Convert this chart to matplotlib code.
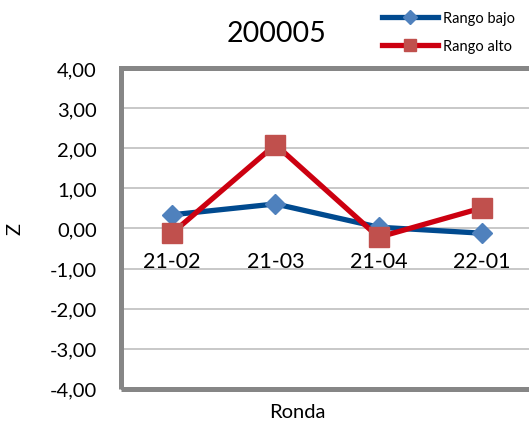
import matplotlib
matplotlib.use("Agg")
import matplotlib.pyplot as plt
from matplotlib.lines import Line2D
from matplotlib.patches import Rectangle

plt.rcParams["font.family"] = ["Lato", "DejaVu Sans"]

# data
rondas = ["21-02", "21-03", "21-04", "22-01"]
rango_bajo = [0.34, 0.61, 0.03, -0.12]
rango_alto = [-0.12, 2.09, -0.22, 0.51]
yticks = [-4, -3, -2, -1, 0, 1, 2, 3, 4]

BLUE_LINE = "#004A8F"; BLUE_MK = "#4F81BD"
RED_LINE = "#CC0010"; RED_MK = "#C0504D"
GRID = "#BFBFBF"; FRAME = "#868686"

W, H = 529, 427
fig = plt.figure(figsize=(W / 100, H / 100), dpi=100)
ax = fig.add_axes([120.5 / W, 1 - 389.8 / H, 413 / W, 320.8 / H])

# category labels sit on the zero line, like Excel (set before tick styling,
# set_position resets the ticks)
for side in ("top", "right", "left"):
    ax.spines[side].set_visible(False)
ax.spines["bottom"].set_position(("data", 0))
ax.spines["bottom"].set_visible(False)

x = range(len(rondas))
ax.plot(x, rango_bajo, color=BLUE_LINE, lw=3.8, marker="D", ms=10.5,
        mfc=BLUE_MK, mec=BLUE_MK, zorder=3)
ax.plot(x, rango_alto, color=RED_LINE, lw=3.8, marker="s", ms=14,
        mfc=RED_MK, mec=RED_MK, zorder=4)

ax.set_xlim(-0.5, len(rondas) - 0.5)
ax.set_ylim(-4, 4)
ax.set_yticks(yticks)
ax.set_yticklabels([f"{v:.2f}".replace(".", ",") for v in yticks])
ax.set_xticks(list(x))
ax.set_xticklabels(rondas)
ax.tick_params(axis="both", length=0)
ax.tick_params(axis="y", pad=17, labelsize=14.5)
ax.tick_params(axis="x", pad=16, labelsize=15.5)
ax.grid(axis="y", color=GRID, lw=1.2)
ax.set_axisbelow(True)

# thick grey plot-area frame
ax.add_patch(Rectangle((0, 0), 1, 1, transform=ax.transAxes, fill=False,
                       ec=FRAME, lw=3.6, clip_on=False, zorder=5))

fig.text(276 / W, 1 - 34 / H, "200005", fontsize=20.5, ha="center", va="center")
fig.text(297 / W, 1 - 413 / H, "Ronda", fontsize=14.5, ha="center", va="center")
fig.text(15 / W, 1 - 229 / H, "Z", fontsize=14.5, rotation=90, ha="center", va="center")

handles = [
    Line2D([], [], color=BLUE_LINE, lw=3.8, marker="D", ms=7, mfc=BLUE_MK, mec=BLUE_MK),
    Line2D([], [], color=RED_LINE, lw=3.8, marker="s", ms=9, mfc=RED_MK, mec=RED_MK),
]
fig.legend(handles, ["Rango bajo", "Rango alto"], loc="upper left",
           bbox_to_anchor=(372 / W, 1 - 2 / H), frameon=False, fontsize=10.5,
           handlelength=3.8, handletextpad=0.35, labelspacing=0.95,
           borderpad=0.2)

fig.savefig("out.png", dpi=100, facecolor="white")
